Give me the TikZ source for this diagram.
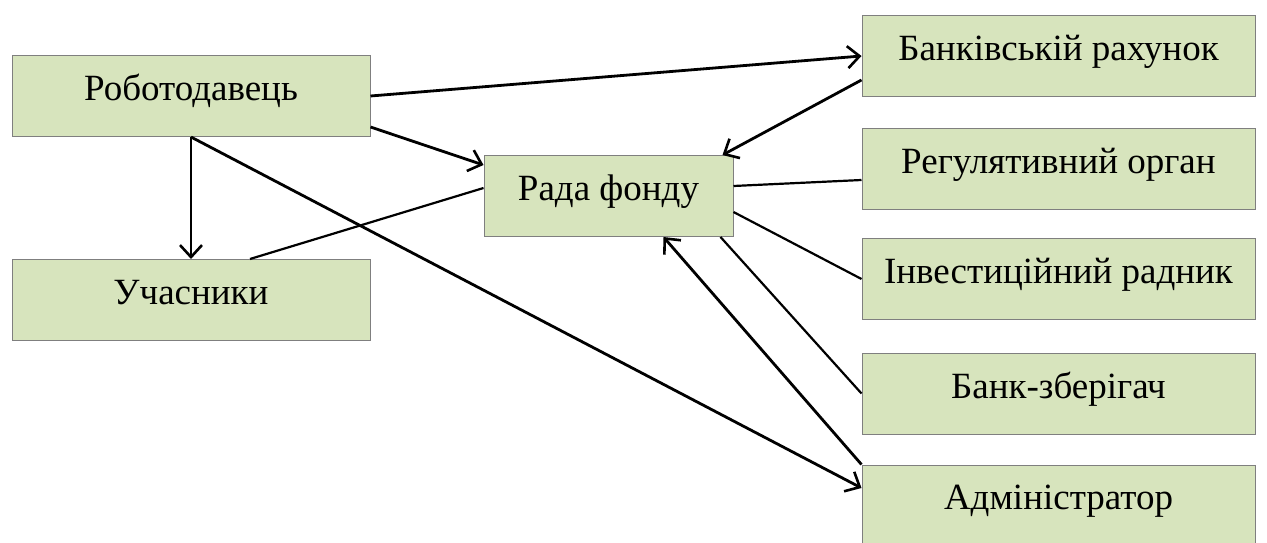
\documentclass[tikz,border=0pt]{standalone}
\usepackage{fontspec}
\setmainfont{Liberation Serif}
\usetikzlibrary{arrows.meta,positioning}
\definecolor{boxfill}{HTML}{D7E4BD}
\definecolor{boxline}{HTML}{7F7F7F}

\begin{document}
\begin{tikzpicture}[x=1pt, y=-1pt,
  every node/.style={font=\fontsize{37}{42}\selectfont},
  party/.style={draw=boxline, line width=1pt, fill=boxfill, rectangle,
  minimum height=81pt, inner sep=0pt, text height=25pt, text depth=16pt, align=center},
  wide/.style={party, minimum width=358pt},
  side/.style={party, minimum width=393pt},
  arr/.style={-{Straight Barb[length=12pt, width=22pt, line width=2.6pt]}, line width=2.8pt},
  link/.style={line width=2.2pt}
]
\fill[white] (0,0) rectangle (1267,543);
\useasboundingbox (0,0) rectangle (1267,543);
% left column
\node[wide] (emp) at (191,96) {Роботодавець};
\node[wide] (memb) at (191,300) {Учасники};
% middle
\node[party, minimum width=249pt] (board) at (608.5,196) {Рада фонду};
% right column
\node[side] (bank) at (1058.5,56) {Банківській рахунок};
\node[side] (reg) at (1058.5,169) {Регулятивний орган};
\node[side] (inv) at (1058.5,279) {Інвестиційний радник};
\node[side] (cust) at (1058.5,393.5) {Банк-зберігач};
\node[side, minimum height=80pt] (adm) at (1058.5,505) {Адміністратор};
% arrows
\draw[arr] (emp.east) -- (bank.west);
\draw[arr] ([yshift=-31pt]emp.east) -- ([yshift=-10pt]board.north west);
\draw[arr] (emp.south) -- (memb.north);
\draw[arr] (emp.south) -- ([yshift=17pt]adm.west);
\draw[arr] ([yshift=-24pt]bank.west) -- ([xshift=-11pt]board.north east);
\draw[arr] (adm.north west) -- ([xshift=55pt]board.south);
% plain lines
\draw[link] ([xshift=59pt]memb.north) -- ([yshift=8pt]board.west);
\draw[link] ([yshift=10pt]board.east) -- ([yshift=-11pt]reg.west);
\draw[link] ([yshift=-16pt]board.east) -- (inv.west);
\draw[link] ([xshift=-13pt]board.south east) -- (cust.west);
\end{tikzpicture}
\end{document}
